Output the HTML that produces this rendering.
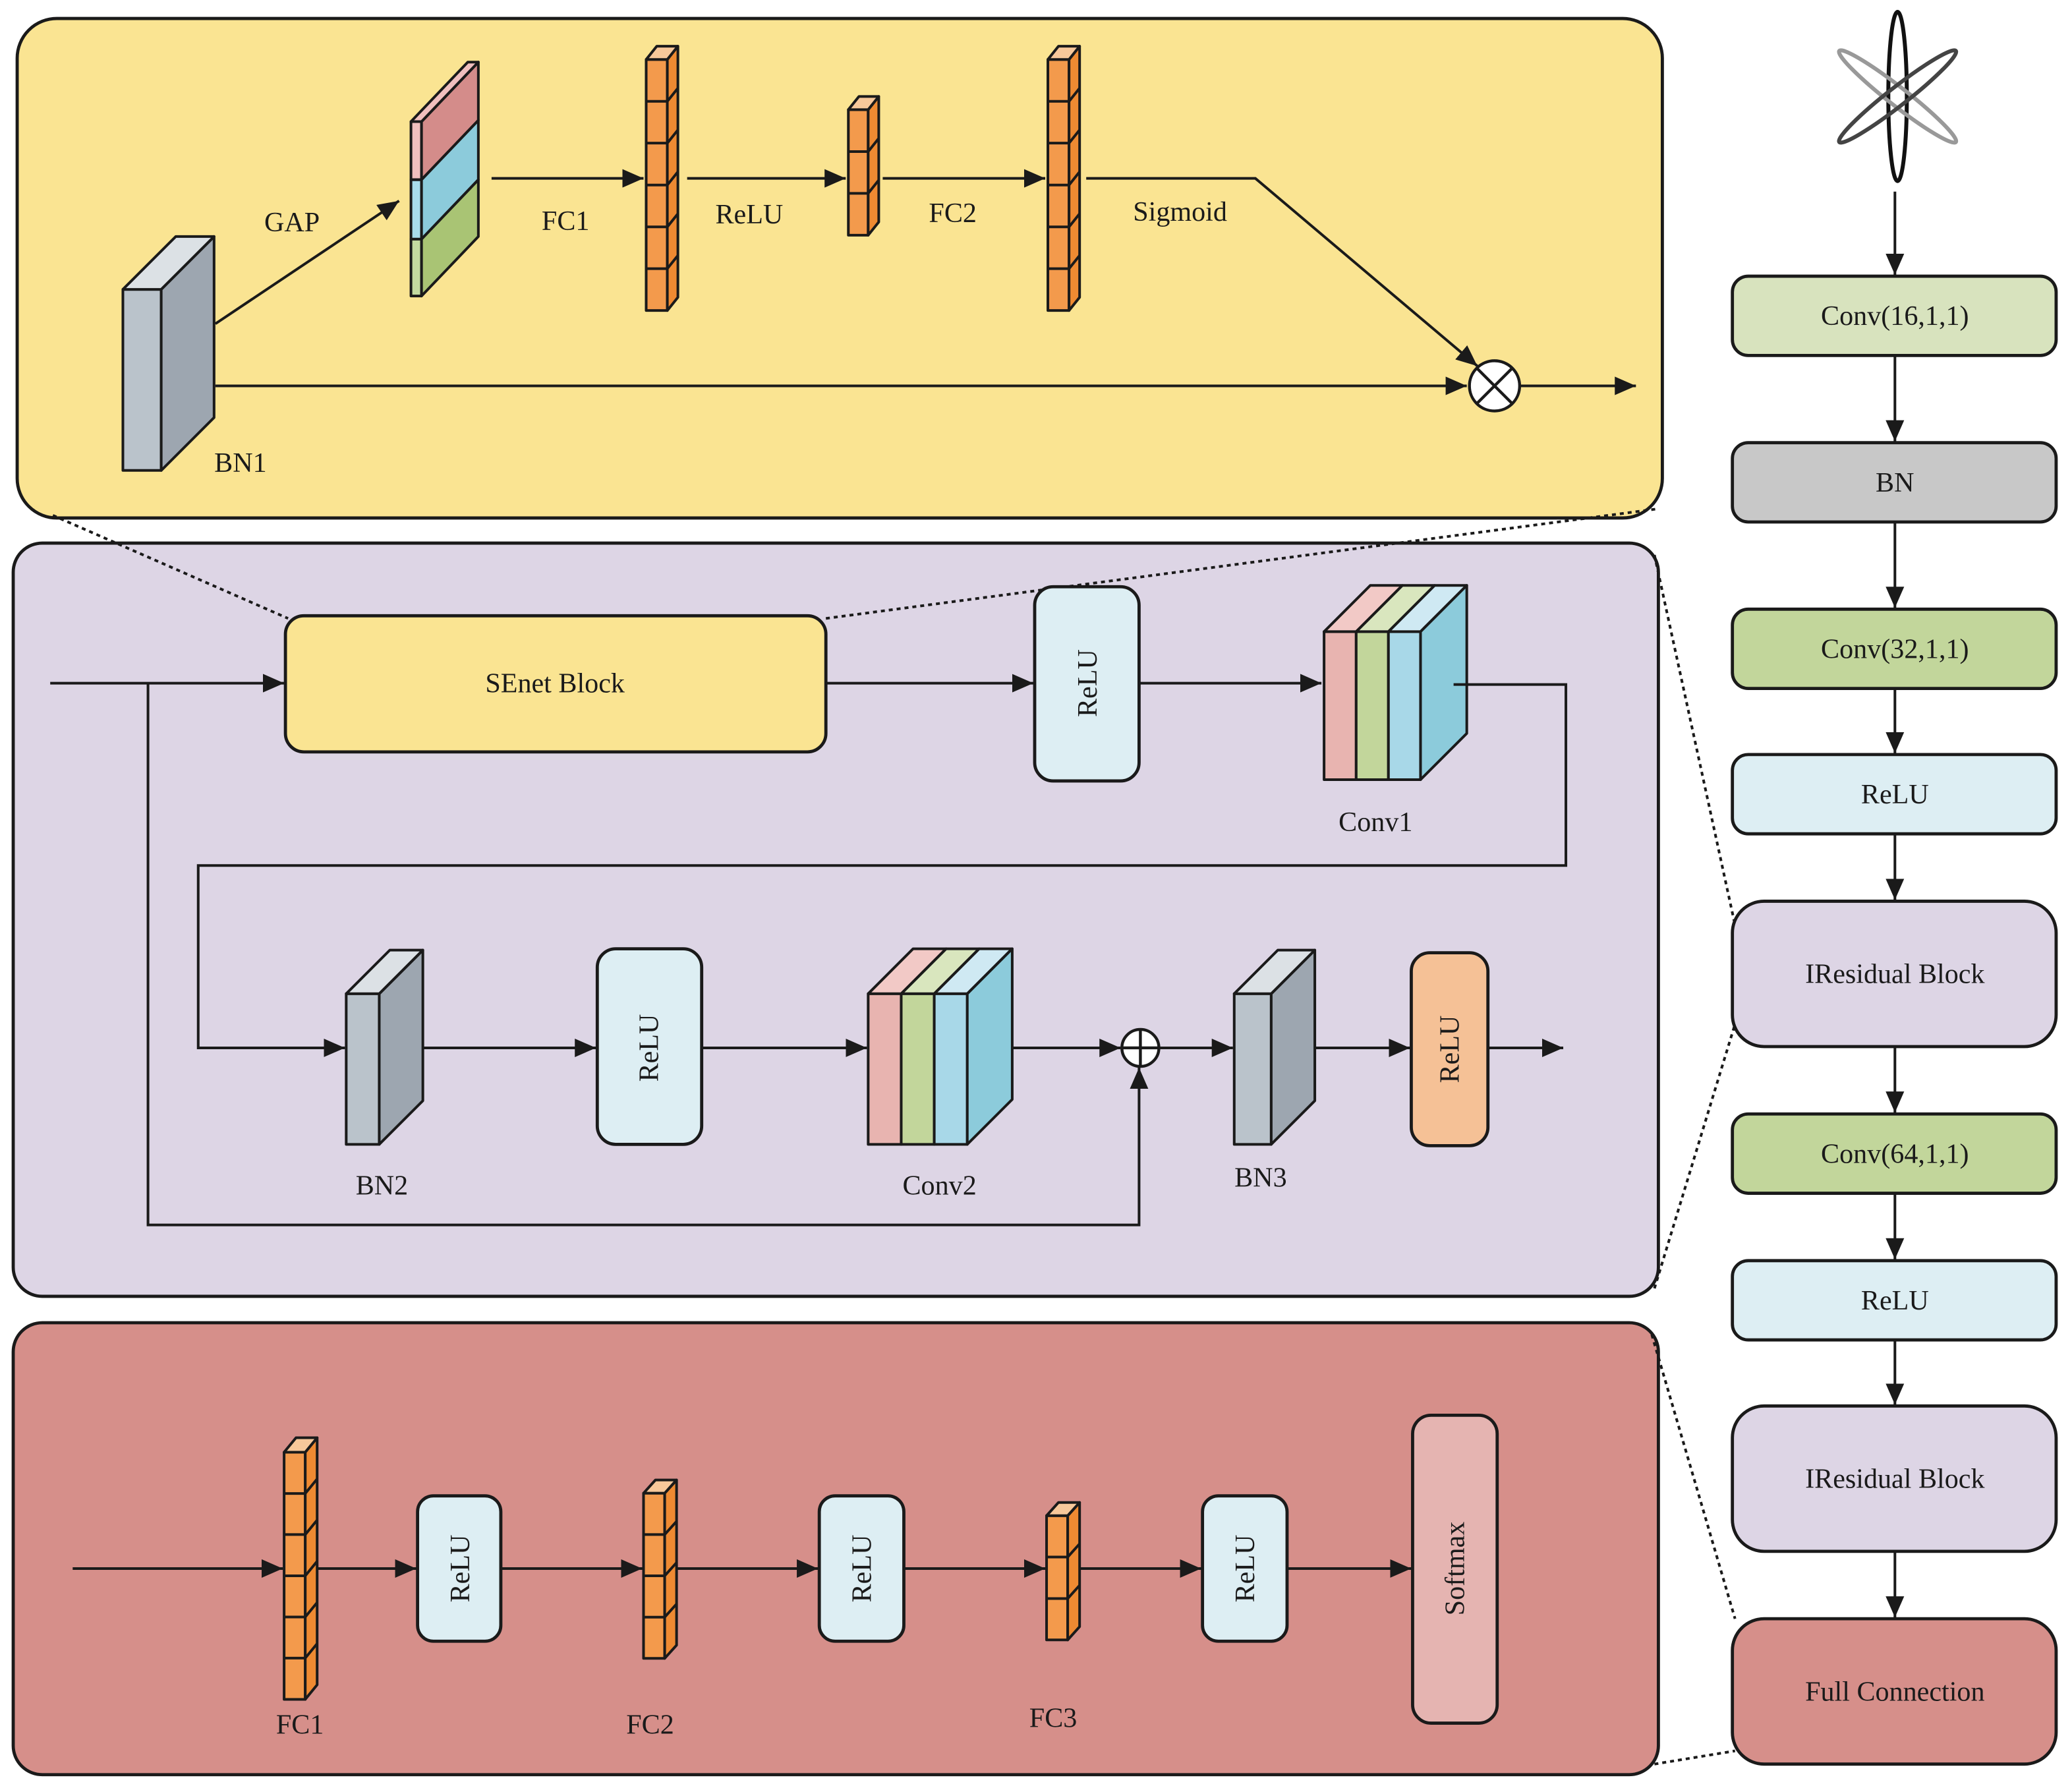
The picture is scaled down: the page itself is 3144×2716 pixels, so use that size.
<!DOCTYPE html>
<html><head><meta charset="utf-8"><style>
html,body{margin:0;padding:0;background:#fff}
svg{display:block}
text{font-family:"Liberation Serif",serif;fill:#1a1a1a}
</style></head><body>
<svg width="3144" height="2716" viewBox="0 0 1568 1354.6" preserveAspectRatio="none" xmlns="http://www.w3.org/2000/svg">
<defs>
<marker id="a" markerUnits="userSpaceOnUse" markerWidth="18" markerHeight="14" refX="16" refY="7" orient="auto"><path d="M0,0 L16,7 L0,14 Z" fill="#1a1a1a"/></marker>
</defs>
<g stroke="#1a1a1a" stroke-width="2.4">
<rect x="13" y="14" width="1245" height="378" rx="30" fill="#FAE492"/>
<rect x="10" y="411" width="1245" height="570" rx="22" fill="#DDD5E5"/>
<rect x="10" y="1001" width="1245" height="342" rx="22" fill="#D68F8A"/>
</g>
<g stroke="#1a1a1a" stroke-width="2" stroke-dasharray="3,3" fill="none">
<line x1="40" y1="390" x2="218" y2="468"/>
<line x1="625" y1="468" x2="1255" y2="385"/>
<line x1="1252" y1="420" x2="1313" y2="700"/>
<line x1="1252" y1="975" x2="1313" y2="775"/>
<line x1="1250" y1="1010" x2="1313" y2="1225"/>
<line x1="1252" y1="1335" x2="1313" y2="1325"/>
</g>
<g stroke="#1a1a1a" stroke-width="2" stroke-linejoin="round">
<!-- BN1 -->
<polygon points="93,219 122,219 122,356 93,356" fill="#BAC3CB"/>
<polygon points="122,219 162,179 162,316 122,356" fill="#9DA6B0"/>
<polygon points="93,219 133,179 162,179 122,219" fill="#DCE1E5"/>
<!-- slab -->
<polygon points="311,92 319,92 319,136 311,136" fill="#F0BFBE"/>
<polygon points="319,92 362,47 362,91 319,136" fill="#D48C8A"/>
<polygon points="311,136 319,136 319,181 311,181" fill="#A8DCEB"/>
<polygon points="319,136 362,91 362,136 319,181" fill="#8CCBDB"/>
<polygon points="311,181 319,181 319,224 311,224" fill="#C3DAA0"/>
<polygon points="319,181 362,136 362,179 319,224" fill="#A9C474"/>
<polygon points="311,92 354,47 362,47 319,92" fill="#F0BFBE"/>
<!-- FC1 top -->
<rect x="489" y="45" width="16" height="190" fill="#F39A4C"/>
<polygon points="505,45 513,35 513,225 505,235" fill="#EE8A32"/>
<polygon points="489,45 497,35 513,35 505,45" fill="#F7C89A"/>
<path fill="none" d="M489 76.7H505L513 66.7M489 108.3H505L513 98.3M489 140H505L513 130M489 171.7H505L513 161.7M489 203.3H505L513 193.3"/>
<!-- ReLU col -->
<rect x="642" y="83" width="15" height="95" fill="#F39A4C"/>
<polygon points="657,83 665,73 665,168 657,178" fill="#EE8A32"/>
<polygon points="642,83 650,73 665,73 657,83" fill="#F7C89A"/>
<path fill="none" d="M642 114.7H657L665 104.7M642 146.3H657L665 136.3"/>
<!-- FC2 top -->
<rect x="793" y="45" width="16" height="190" fill="#F39A4C"/>
<polygon points="809,45 817,35 817,225 809,235" fill="#EE8A32"/>
<polygon points="793,45 801,35 817,35 809,45" fill="#F7C89A"/>
<path fill="none" d="M793 76.7H809L817 66.7M793 108.3H809L817 98.3M793 140H809L817 130M793 171.7H809L817 161.7M793 203.3H809L817 193.3"/>
<!-- Conv1 -->
<polygon points="1002,478 1026.3,478 1026.3,590 1002,590" fill="#E8B4B0"/>
<polygon points="1026.3,478 1050.7,478 1050.7,590 1026.3,590" fill="#C2D69B"/>
<polygon points="1050.7,478 1075,478 1075,590 1050.7,590" fill="#A8D8E8"/>
<polygon points="1002,478 1037,443 1061.3,443 1026.3,478" fill="#F2C9C6"/>
<polygon points="1026.3,478 1061.3,443 1085.7,443 1050.7,478" fill="#D9E6BE"/>
<polygon points="1050.7,478 1085.7,443 1110,443 1075,478" fill="#CFE9F3"/>
<polygon points="1075,478 1110,443 1110,555 1075,590" fill="#8CCBDB"/>
<!-- BN2 -->
<polygon points="262,752 287,752 287,866 262,866" fill="#BAC3CB"/>
<polygon points="287,752 320,719 320,833 287,866" fill="#9DA6B0"/>
<polygon points="262,752 295,719 320,719 287,752" fill="#DCE1E5"/>
<!-- Conv2 -->
<polygon points="657,752 682,752 682,866 657,866" fill="#E8B4B0"/>
<polygon points="682,752 707,752 707,866 682,866" fill="#C2D69B"/>
<polygon points="707,752 732,752 732,866 707,866" fill="#A8D8E8"/>
<polygon points="657,752 691,718 716,718 682,752" fill="#F2C9C6"/>
<polygon points="682,752 716,718 741,718 707,752" fill="#D9E6BE"/>
<polygon points="707,752 741,718 766,718 732,752" fill="#CFE9F3"/>
<polygon points="732,752 766,718 766,832 732,866" fill="#8CCBDB"/>
<!-- BN3 -->
<polygon points="934,752 962,752 962,866 934,866" fill="#BAC3CB"/>
<polygon points="962,752 995,719 995,833 962,866" fill="#9DA6B0"/>
<polygon points="934,752 967,719 995,719 962,752" fill="#DCE1E5"/>
<!-- bottom FC1 -->
<rect x="215" y="1099" width="16" height="187" fill="#F39A4C"/>
<polygon points="231,1099 240,1088 240,1275 231,1286" fill="#EE8A32"/>
<polygon points="215,1099 224,1088 240,1088 231,1099" fill="#F7C89A"/>
<path fill="none" d="M215 1130.2H231L240 1119.2M215 1161.3H231L240 1150.3M215 1192.5H231L240 1181.5M215 1223.7H231L240 1212.7M215 1254.8H231L240 1243.8"/>
<!-- bottom FC2 -->
<rect x="487" y="1130" width="16" height="125" fill="#F39A4C"/>
<polygon points="503,1130 512,1120 512,1245 503,1255" fill="#EE8A32"/>
<polygon points="487,1130 496,1120 512,1120 503,1130" fill="#F7C89A"/>
<path fill="none" d="M487 1161.3H503L512 1151.3M487 1192.5H503L512 1182.5M487 1223.8H503L512 1213.8"/>
<!-- bottom FC3 -->
<rect x="792" y="1147" width="16" height="94" fill="#F39A4C"/>
<polygon points="808,1147 817,1137 817,1231 808,1241" fill="#EE8A32"/>
<polygon points="792,1147 801,1137 817,1137 808,1147" fill="#F7C89A"/>
<path fill="none" d="M792 1178.3H808L817 1168.3M792 1209.7H808L817 1199.7"/>
</g>
<g stroke="#1a1a1a" stroke-width="2" fill="none" marker-end="url(#a)">
<line x1="163" y1="245" x2="302" y2="152"/>
<line x1="372" y1="135" x2="487" y2="135"/>
<line x1="520" y1="135" x2="640" y2="135"/>
<line x1="668" y1="135" x2="791" y2="135"/>
<polyline points="822,135 950,135 1118,277"/>
<line x1="163" y1="292" x2="1110" y2="292"/>
<line x1="1150" y1="292" x2="1238" y2="292"/>
<line x1="38" y1="517" x2="215" y2="517"/>
<line x1="625" y1="517" x2="782" y2="517"/>
<line x1="862" y1="517" x2="1000" y2="517"/>
<polyline points="1100,518 1185,518 1185,655 150,655 150,793 261,793"/>
<polyline points="112,517 112,927 862,927 862,808"/>
<line x1="320" y1="793" x2="451" y2="793"/>
<line x1="531" y1="793" x2="656" y2="793"/>
<line x1="766" y1="793" x2="848" y2="793"/>
<line x1="877" y1="793" x2="933" y2="793"/>
<line x1="995" y1="793" x2="1067" y2="793"/>
<line x1="1126" y1="793" x2="1183" y2="793"/>
<line x1="55" y1="1187" x2="214" y2="1187"/>
<line x1="240" y1="1187" x2="315" y2="1187"/>
<line x1="379" y1="1187" x2="486" y2="1187"/>
<line x1="512" y1="1187" x2="619" y2="1187"/>
<line x1="684" y1="1187" x2="791" y2="1187"/>
<line x1="817" y1="1187" x2="909" y2="1187"/>
<line x1="974" y1="1187" x2="1068" y2="1187"/>
<line x1="1434" y1="145" x2="1434" y2="208"/>
<line x1="1434" y1="269" x2="1434" y2="334"/>
<line x1="1434" y1="395" x2="1434" y2="460"/>
<line x1="1434" y1="521" x2="1434" y2="570"/>
<line x1="1434" y1="631" x2="1434" y2="681"/>
<line x1="1434" y1="792" x2="1434" y2="842"/>
<line x1="1434" y1="903" x2="1434" y2="953"/>
<line x1="1434" y1="1014" x2="1434" y2="1063"/>
<line x1="1434" y1="1174" x2="1434" y2="1224"/>
</g>
<g stroke="#1a1a1a" stroke-width="2.2">
<circle cx="1131" cy="292" r="19" fill="#fff"/>
<line x1="1118" y1="279" x2="1144" y2="305"/><line x1="1144" y1="279" x2="1118" y2="305"/>
<circle cx="863" cy="793" r="14" fill="#fff"/>
<line x1="849" y1="793" x2="877" y2="793"/><line x1="863" y1="779" x2="863" y2="807"/>
</g>
<g stroke="#1a1a1a" stroke-width="2.4">
<rect x="216" y="466" width="409" height="103" rx="14" fill="#FAE492"/>
<rect x="783" y="444" width="79" height="147" rx="14" fill="#DDEEF3"/>
<rect x="452" y="718" width="79" height="148" rx="14" fill="#DDEEF3"/>
<rect x="1068" y="721" width="58" height="146" rx="14" fill="#F5C196"/>
<rect x="316" y="1132" width="63" height="110" rx="12" fill="#DDEEF3"/>
<rect x="620" y="1132" width="64" height="110" rx="12" fill="#DDEEF3"/>
<rect x="910" y="1132" width="64" height="110" rx="12" fill="#DDEEF3"/>
<rect x="1069" y="1071" width="64" height="233" rx="14" fill="#E5B4B1"/>
<rect x="1311" y="209" width="245" height="60" rx="12" fill="#D8E3BE"/>
<rect x="1311" y="335" width="245" height="60" rx="12" fill="#C8C8C8"/>
<rect x="1311" y="461" width="245" height="60" rx="12" fill="#C2D69B"/>
<rect x="1311" y="571" width="245" height="60" rx="12" fill="#DDEEF3"/>
<rect x="1311" y="682" width="245" height="110" rx="24" fill="#DDD5E5"/>
<rect x="1311" y="843" width="245" height="60" rx="12" fill="#C2D69B"/>
<rect x="1311" y="954" width="245" height="60" rx="12" fill="#DDEEF3"/>
<rect x="1311" y="1064" width="245" height="110" rx="24" fill="#DDD5E5"/>
<rect x="1311" y="1225" width="245" height="110" rx="24" fill="#D68F8A"/>
</g>
<g fill="none" stroke-width="3">
<ellipse cx="1436" cy="73" rx="7" ry="64" stroke="#111"/>
<ellipse cx="1436" cy="73" rx="7" ry="56" stroke="#999" transform="rotate(-52 1436 73)"/>
<ellipse cx="1436" cy="73" rx="7" ry="56" stroke="#444" transform="rotate(52 1436 73)"/>
</g>
<g font-size="21" text-anchor="middle">
<text x="221" y="175">GAP</text>
<text x="428" y="174">FC1</text>
<text x="567" y="169">ReLU</text>
<text x="721" y="168">FC2</text>
<text x="893" y="167">Sigmoid</text>
<text x="182" y="357">BN1</text>
<text x="420" y="524">SEnet Block</text>
<text x="1041" y="629">Conv1</text>
<text x="289" y="904">BN2</text>
<text x="711" y="904">Conv2</text>
<text x="954" y="898">BN3</text>
<text x="227" y="1312">FC1</text>
<text x="492" y="1312">FC2</text>
<text x="797" y="1307">FC3</text>
<text transform="translate(830 517) rotate(-90)">ReLU</text>
<text transform="translate(498 793) rotate(-90)">ReLU</text>
<text transform="translate(1104 794) rotate(-90)">ReLU</text>
<text transform="translate(355 1187) rotate(-90)">ReLU</text>
<text transform="translate(659 1187) rotate(-90)">ReLU</text>
<text transform="translate(949 1187) rotate(-90)">ReLU</text>
<text transform="translate(1108 1187) rotate(-90)">Softmax</text>
<text x="1434" y="246">Conv(16,1,1)</text>
<text x="1434" y="372">BN</text>
<text x="1434" y="498">Conv(32,1,1)</text>
<text x="1434" y="608">ReLU</text>
<text x="1434" y="744">IResidual Block</text>
<text x="1434" y="880">Conv(64,1,1)</text>
<text x="1434" y="991">ReLU</text>
<text x="1434" y="1126">IResidual Block</text>
<text x="1434" y="1287">Full Connection</text>
</g>
</svg>
</body></html>
